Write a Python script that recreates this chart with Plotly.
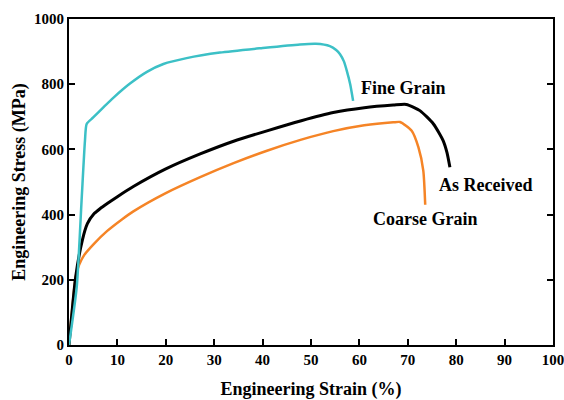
import plotly.graph_objects as go

# Engineering stress-strain curves for three grain conditions
fine_strain = [0, 1.6, 2.6, 3.3, 3.65, 5.0, 7.1, 9.2, 12.6, 16.1, 19.5, 24.3, 31.2, 40, 47.7,
               51, 53.9, 55.2, 56, 56.8, 57.4, 58.1, 58.7]
fine_stress = [0, 178, 443, 627, 678, 698, 729, 759, 802, 838, 862, 880, 897, 911, 922,
               924, 917, 905, 892, 870, 841, 800, 749]

asrec_strain = [0, 1.38, 2.75, 3.8, 5.2, 6.4, 7.9, 10, 13.3, 20, 27.1, 34, 40.9, 48, 54.6,
                61, 67, 69.7, 72.5, 75.3, 77.3, 78.1, 78.7]
asrec_stress = [0, 209, 321, 372, 403, 418, 434, 455, 486, 540, 586, 625, 657, 688, 713,
                728, 736, 738, 719, 678, 627, 590, 545]

coarse_strain = [0, 1.38, 2.07, 3.1, 5.2, 7.9, 11, 13.3, 20, 27.1, 34, 40.9, 48, 54.6, 61,
                 67, 68.4, 70.8, 72.2, 73.2, 73.6]
coarse_stress = [0, 209, 245, 275, 311, 350, 386, 410, 466, 515, 558, 596, 630, 656, 674,
                 683, 684, 657, 606, 535, 430]

x_ticks = [0, 10, 20, 30, 40, 50, 60, 70, 80, 90, 100]
y_ticks = [0, 200, 400, 600, 800, 1000]

labels = ["Fine Grain", "As Received", "Coarse Grain"]
label_x = [69.2, 86.0, 73.6]
label_y = [789, 492, 385]

FONT = "Liberation Serif"

fig = go.Figure()
fig.add_trace(go.Scatter(x=coarse_strain, y=coarse_stress, mode="lines",
                         line=dict(color="#F58426", width=2.5, shape="spline", smoothing=0.6),
                         name="Coarse Grain"))
fig.add_trace(go.Scatter(x=asrec_strain, y=asrec_stress, mode="lines",
                         line=dict(color="#000000", width=3, shape="spline", smoothing=0.6),
                         name="As Received"))
fig.add_trace(go.Scatter(x=fine_strain, y=fine_stress, mode="lines",
                         line=dict(color="#3CC0C6", width=2.5, shape="spline", smoothing=0.6),
                         name="Fine Grain"))

for t, lx, ly in zip(labels, label_x, label_y):
    fig.add_annotation(x=lx, y=ly, text=t, showarrow=False, xref="x", yref="y",
                       font=dict(family=FONT, size=18, color="black", weight="bold"))

axis_common = dict(
    showgrid=False, zeroline=False, showline=True, linecolor="black", linewidth=2,
    ticks="inside", ticklen=6, tickwidth=1.5, tickcolor="black", automargin=False,
    ticklabeloverflow="allow",
    tickfont=dict(family=FONT, size=15, color="black", weight="bold"),
)

fig.update_xaxes(range=[0, 100], tickvals=x_ticks, mirror=True,
                 title=dict(text="Engineering Strain (%)", standoff=20,
                            font=dict(family=FONT, size=18, color="black", weight="bold")),
                 **axis_common)
fig.update_yaxes(range=[0, 1000], tickvals=y_ticks, mirror="ticks",
                 title=dict(text="Engineering Stress (MPa)", standoff=4,
                            font=dict(family=FONT, size=18, color="black", weight="bold")),
                 **axis_common)

fig.update_layout(
    width=564, height=400, showlegend=False,
    margin=dict(l=69, r=11, t=19, b=55),
    plot_bgcolor="white", paper_bgcolor="white",
)

fig.write_html("out.html")
